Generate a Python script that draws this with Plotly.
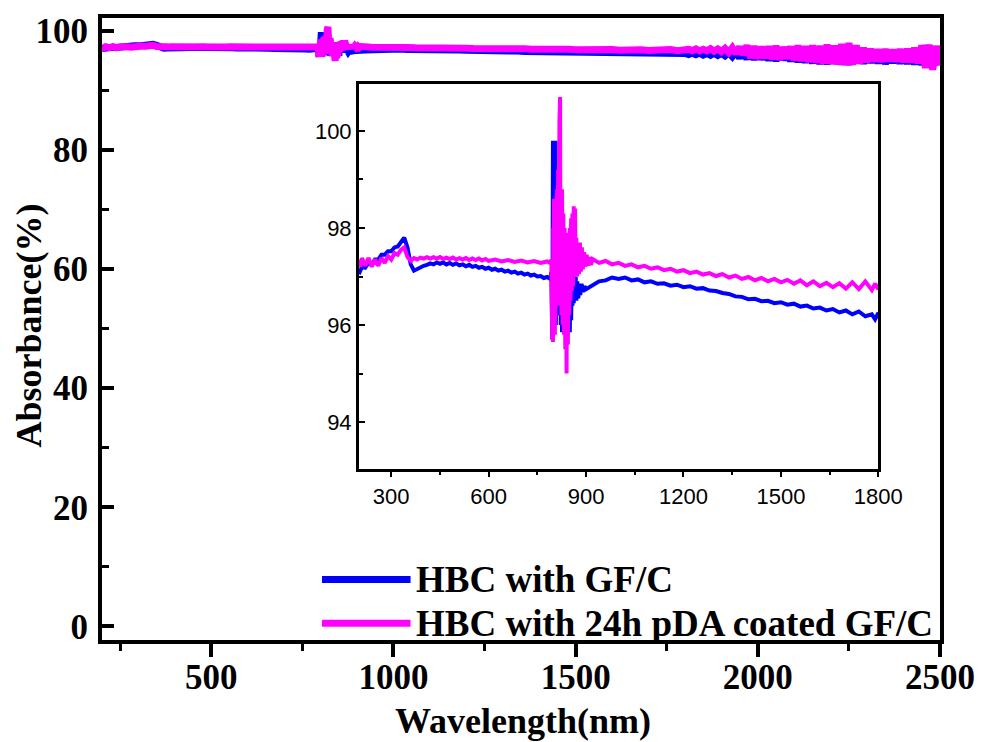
import plotly.graph_objects as go

# ---------------- data ----------------
# HBC with GF/C (blue)
wl_gfc = [200, 210, 220, 230, 240, 250, 260, 270, 280, 290, 300, 310, 320, 330, 340, 350, 360, 370, 380, 390,
          400, 410, 420, 430, 440, 450, 460, 470, 480, 490, 500, 510, 520, 530, 540, 550, 560, 570, 580, 590,
          600, 610, 620, 630, 640, 650, 660, 670, 680, 690, 700, 710, 720, 730, 740, 750, 760, 770, 780, 790,
          793, 795, 796, 797, 798, 799, 800, 801, 802, 803, 804, 805, 806, 807, 808, 810, 812, 814, 816, 818,
          820, 822, 824, 826, 828, 830, 832, 834, 836, 838, 840, 842, 844, 846, 848, 850, 852, 854, 856, 858,
          860, 862, 864, 866, 868, 870, 873, 876, 879, 882, 886, 890, 895, 900,
          920, 940, 960, 980, 1000, 1020, 1040, 1060, 1080, 1100, 1120, 1140, 1160, 1180, 1200, 1220, 1240,
          1260, 1280, 1300, 1320, 1340, 1360, 1380, 1400, 1420, 1440, 1460, 1480, 1500, 1520, 1540, 1560,
          1580, 1600, 1620, 1640, 1660, 1680, 1700, 1720, 1740, 1760, 1780, 1790, 1800,
          1810, 1820, 1830, 1840, 1850, 1860, 1870, 1880, 1890, 1900, 1910, 1920, 1930, 1940, 1950, 1960,
          1970, 1980, 1990, 2000, 2010, 2020, 2030, 2040, 2050, 2060, 2070, 2080, 2090, 2100, 2110, 2120,
          2130, 2140, 2150, 2160, 2170, 2180, 2190, 2200, 2210, 2220, 2230, 2240, 2250, 2260, 2270, 2280,
          2290, 2300, 2310, 2320, 2330, 2340, 2350, 2360, 2370, 2380, 2390, 2400, 2410, 2420, 2430, 2440,
          2450, 2460, 2470, 2480, 2490, 2500]
abs_gfc = [97.05, 97.20, 97.18, 97.28, 97.25, 97.35, 97.35, 97.45, 97.45, 97.52, 97.52, 97.60, 97.62, 97.72, 97.80, 97.60, 97.25, 97.12, 97.16, 97.20,
           97.22, 97.24, 97.27, 97.25, 97.29, 97.26, 97.29, 97.25, 97.28, 97.24, 97.27, 97.23, 97.25, 97.21, 97.24, 97.20, 97.22, 97.18, 97.20, 97.16,
           97.18, 97.14, 97.16, 97.12, 97.14, 97.10, 97.12, 97.08, 97.10, 97.06, 97.08, 97.04, 97.06, 97.02, 97.04, 97.00, 97.01, 96.97, 96.99, 96.95,
           97.10, 96.10, 95.70, 97.50, 99.80, 96.50, 99.75, 97.00, 99.80, 96.20, 99.70, 97.50, 99.80, 96.00, 98.60, 96.30, 98.20, 96.40, 98.00, 96.20,
           97.90, 96.00, 97.80, 95.85, 97.70, 95.90, 97.60, 95.85, 97.70, 95.90, 97.50, 95.85, 97.60, 95.90, 97.40, 95.85, 97.30, 96.10, 97.20, 96.40,
           97.10, 96.45, 97.00, 96.50, 97.00, 96.50, 96.90, 96.55, 96.80, 96.62, 96.85, 96.68, 96.80, 96.74,
           96.82, 96.90, 96.92, 96.98, 96.95, 96.98, 96.92, 96.94, 96.88, 96.90, 96.85, 96.86, 96.81, 96.83, 96.78, 96.80, 96.75,
           96.76, 96.71, 96.70, 96.66, 96.64, 96.59, 96.58, 96.53, 96.54, 96.49, 96.50, 96.45, 96.47, 96.42, 96.44, 96.38,
           96.40, 96.34, 96.36, 96.30, 96.33, 96.26, 96.30, 96.22, 96.28, 96.18, 96.22, 96.12, 96.25,
           96.05, 96.28, 96.02, 96.30, 95.98, 96.25, 95.95, 96.28, 95.90, 96.25, 95.85, 96.35, 95.70, 96.50, 95.50, 96.70,
           95.30, 97.10, 95.20, 96.95, 95.25, 96.80, 95.10, 96.85, 95.00, 96.90, 95.15, 96.70, 94.95, 96.80, 94.80, 96.95,
           94.70, 96.85, 94.60, 97.00, 94.50, 96.90, 94.45, 97.10, 94.55, 96.95, 94.40, 97.20, 94.35, 97.00, 94.60, 96.80,
           94.55, 96.60, 94.70, 96.50, 94.60, 96.55, 94.50, 96.45, 94.65, 96.50, 94.55, 96.60, 94.50, 96.70, 94.40, 96.80,
           94.30, 97.60, 94.40, 97.40, 94.50, 96.20]

# HBC with 24h pDA coated GF/C (magenta)
wl_pda = [200, 205, 210, 220, 230, 240, 250, 260, 270, 280, 290, 300, 310, 320, 330, 340, 350, 360, 370, 380,
          390, 400, 410, 420, 430, 440, 450, 460, 470, 480, 490, 500, 510, 520, 530, 540, 550, 560, 570, 580,
          590, 600, 620, 640, 660, 680, 700, 720, 740, 760, 780, 790,
          793, 795, 796, 797, 798, 799, 800, 801, 802, 803, 804, 805, 806, 807, 808, 810, 812, 814, 816, 818,
          819, 820, 821, 822, 824, 826, 828, 830, 832, 834, 836, 838, 840, 842, 844, 846, 848, 850, 852, 854,
          856, 858, 860, 862, 864, 866, 868, 870, 872, 875, 878, 881, 884, 887, 890, 894, 898, 902, 906, 910,
          915, 920, 940, 960, 980, 1000, 1020, 1040, 1060, 1080, 1100, 1120, 1140, 1160, 1180, 1200, 1220,
          1240, 1260, 1280, 1300, 1320, 1340, 1360, 1380, 1400, 1420, 1440, 1460, 1480, 1500, 1520, 1540,
          1560, 1580, 1600, 1620, 1640, 1660, 1680, 1700, 1720, 1740, 1760, 1780, 1790, 1800,
          1810, 1820, 1830, 1840, 1850, 1860, 1870, 1880, 1890, 1900, 1910, 1920, 1930, 1940, 1950, 1960,
          1970, 1980, 1990, 2000, 2010, 2020, 2030, 2040, 2050, 2060, 2070, 2080, 2090, 2100, 2110, 2120,
          2130, 2140, 2150, 2160, 2170, 2180, 2190, 2200, 2210, 2220, 2230, 2240, 2250, 2260, 2270, 2280,
          2290, 2300, 2310, 2320, 2330, 2340, 2350, 2360, 2370, 2380, 2390, 2400, 2410, 2420, 2430, 2440,
          2450, 2460, 2470, 2480, 2490, 2500]
abs_pda = [97.35, 97.20, 97.38, 97.22, 97.38, 97.20, 97.35, 97.22, 97.38, 97.28, 97.42, 97.35, 97.48, 97.45, 97.55, 97.60, 97.40, 97.32, 97.38, 97.35,
           97.39, 97.37, 97.40, 97.37, 97.40, 97.37, 97.40, 97.36, 97.39, 97.36, 97.39, 97.35, 97.38, 97.35, 97.38, 97.34, 97.37, 97.34, 97.37, 97.33,
           97.36, 97.32, 97.35, 97.31, 97.34, 97.30, 97.33, 97.29, 97.32, 97.28, 97.31, 97.28,
           97.35, 96.00, 95.70, 97.00, 95.65, 98.00, 96.50, 98.60, 96.00, 98.50, 95.80, 98.20, 96.20, 98.50, 96.50, 98.80, 96.40, 99.20, 96.80, 100.20,
           97.00, 100.70, 96.50, 98.80, 96.20, 98.80, 96.00, 98.30, 95.80, 98.00, 95.50, 97.80, 95.00, 97.90, 95.60, 97.80, 96.20, 98.00, 96.50, 98.20,
           96.70, 98.30, 96.80, 98.45, 97.00, 98.40, 97.00, 97.80, 97.00, 97.60, 97.05, 97.70, 97.10, 97.60, 97.15, 97.50, 97.20, 97.45, 97.22, 97.40,
           97.24, 97.36, 97.28, 97.32, 97.25, 97.28, 97.22, 97.25, 97.19, 97.22, 97.16, 97.19, 97.13, 97.16, 97.10, 97.13, 97.07,
           97.10, 97.04, 97.07, 97.01, 97.05, 96.98, 97.02, 96.95, 96.99, 96.92, 96.97, 96.90, 96.95, 96.88, 96.93, 96.85,
           96.92, 96.82, 96.90, 96.80, 96.87, 96.78, 96.86, 96.75, 96.88, 96.74, 96.90, 96.72, 96.85, 96.74,
           96.95, 96.72, 97.00, 96.68, 96.95, 96.70, 97.05, 96.62, 97.00, 96.55, 97.10, 96.40, 97.20, 96.20, 97.35, 96.00,
           97.60, 95.50, 97.45, 95.40, 97.35, 95.50, 97.40, 95.30, 97.50, 95.20, 97.30, 95.35, 97.40, 95.10, 97.55, 95.00,
           97.45, 94.80, 97.60, 94.70, 97.50, 94.55, 97.70, 94.50, 97.55, 94.40, 97.80, 94.30, 98.00, 94.35, 97.60, 94.60,
           97.20, 94.80, 97.00, 94.90, 96.90, 94.85, 96.95, 94.95, 96.85, 94.90, 96.95, 94.80, 97.00, 94.75, 97.20, 94.60,
           97.60, 93.80, 97.70, 93.50, 97.50, 94.20]

names = ["HBC with GF/C", "HBC with 24h pDA coated GF/C"]
colors = ["#0000FF", "#FF00FF"]

main_xticks = [500, 1000, 1500, 2000, 2500]
main_yticks = [0, 20, 40, 60, 80, 100]
inset_xticks = [300, 600, 900, 1200, 1500, 1800]
inset_yticks = [94, 96, 98, 100]

# ---------------- figure ----------------
fig = go.Figure()
series = [(wl_gfc, abs_gfc), (wl_pda, abs_pda)]
for (x, y), n, c in zip(series, names, colors):
    fig.add_trace(go.Scatter(x=x, y=y, mode="lines", name=n, showlegend=False,
                             line=dict(color=c, width=7), xaxis="x", yaxis="y"))
for (x, y), n, c in zip(series, names, colors):
    fig.add_trace(go.Scatter(x=x, y=y, mode="lines", name=n, showlegend=False,
                             line=dict(color=c, width=4), xaxis="x2", yaxis="y2"))

SERIF = "Liberation Serif, Times New Roman, serif"
tick_font = dict(family=SERIF, size=35, color="black", weight="bold")
title_font = dict(family=SERIF, size=36, color="black", weight="bold")
legend_font = dict(family=SERIF, size=37, color="black", weight="bold")
sans = dict(family="Liberation Sans, Arial, sans-serif", size=22, color="black")

fig.update_layout(
    width=987, height=742,
    margin=dict(l=102, r=43, t=12, b=102),
    paper_bgcolor="white", plot_bgcolor="white",
    xaxis=dict(domain=[0, 1], range=[200, 2500], tickvals=main_xticks, ticks="outside",
               ticklen=13, tickwidth=4, tickcolor="black", ticklabelstandoff=-10,
               minor=dict(tickvals=[250, 750, 1250, 1750, 2250], ticks="outside", ticklen=7, tickwidth=3, tickcolor="black"),
               showline=True, linewidth=4, linecolor="black", mirror=True,
               showgrid=False, zeroline=False, tickfont=tick_font),
    yaxis=dict(domain=[0, 1], range=[-2.3, 102.2], tickvals=main_yticks, ticks="inside",
               ticklen=12, tickwidth=4, tickcolor="black", ticklabelstandoff=3,
               minor=dict(tickvals=[10, 30, 50, 70, 90], ticks="inside", ticklen=7, tickwidth=3, tickcolor="black"),
               showline=True, linewidth=4, linecolor="black", mirror=True,
               showgrid=False, zeroline=False, tickfont=tick_font),
    xaxis2=dict(domain=[0.3064, 0.9264], anchor="y2", range=[200, 1800], tickvals=inset_xticks,
                ticks="outside", ticklen=6, tickwidth=2, tickcolor="black",
                minor=dict(tickvals=[450, 750, 1050, 1350, 1650], ticks="outside", ticklen=4, tickwidth=2, tickcolor="black"),
                showline=True, linewidth=2.5, linecolor="black", mirror=True,
                showgrid=False, zeroline=False, tickfont=sans),
    yaxis2=dict(domain=[0.2755, 0.8933], anchor="x2", range=[93.04, 100.96], tickvals=inset_yticks,
                ticks="inside", ticklen=6, tickwidth=2, tickcolor="black",
                minor=dict(tickvals=[95, 97, 99], ticks="inside", ticklen=4, tickwidth=2, tickcolor="black"),
                showline=True, linewidth=2.5, linecolor="black", mirror=True,
                showgrid=False, zeroline=False, tickfont=sans),
)

# axis titles placed as in the original
fig.add_annotation(xref="paper", yref="paper", x=0.5024, y=-0.131, xanchor="center", yanchor="middle",
                   text="Wavelength(nm)", showarrow=False, font=title_font)
fig.add_annotation(xref="paper", yref="paper", x=-0.0867, y=0.506, xanchor="center", yanchor="middle",
                   text="Absorbance(%)", textangle=-90, showarrow=False, font=title_font)

# manual legend (long line samples as in the original)
leg_y = [0.0971, 0.0271]
for n, c, yy in zip(names, colors, leg_y):
    fig.add_shape(type="line", xref="paper", yref="paper", x0=0.2625, x1=0.3682, y0=yy, y1=yy,
                  line=dict(color=c, width=7))
    fig.add_annotation(xref="paper", yref="paper", x=0.3729, y=yy, xanchor="left", yanchor="middle",
                       text=n, showarrow=False, font=legend_font)

fig.write_html("out.html")
